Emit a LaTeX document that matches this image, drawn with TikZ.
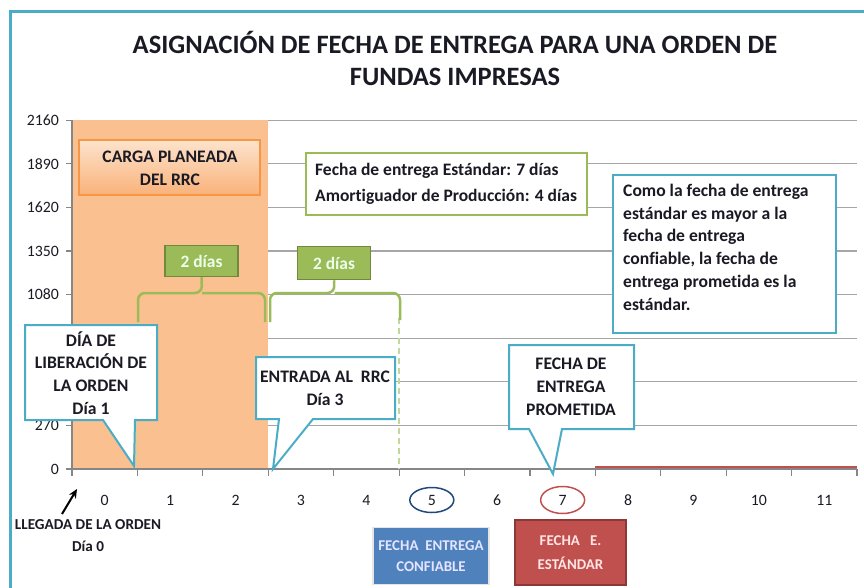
\documentclass[tikz,border=0pt]{standalone}
\usepackage{fontspec}
\setmainfont{Carlito}[Ligatures=NoCommon]
\usetikzlibrary{shapes.geometric,arrows.meta}
\definecolor{aqua}{HTML}{4BACC6}
\definecolor{txt}{HTML}{1A1A24}
\definecolor{gridc}{HTML}{A6A6A6}
\definecolor{axisc}{HTML}{868686}
\definecolor{orangefill}{HTML}{FAC090}
\definecolor{orangeedge}{HTML}{F79646}
\definecolor{orangetop}{HTML}{FDE3CC}
\definecolor{orangebot}{HTML}{F9B27A}
\definecolor{greenc}{HTML}{9BBB59}
\definecolor{greendark}{HTML}{71893F}
\definecolor{greenlight}{HTML}{C3D69B}
\definecolor{bluebox}{HTML}{4F81BD}
\definecolor{navy}{HTML}{1F497D}
\definecolor{redc}{HTML}{C0504D}
\definecolor{reddark}{HTML}{8C3836}
\tikzset{
  gridline/.style={draw=gridc, line width=1.2pt},
  callout/.style={draw=aqua, line width=2pt, fill=white, line join=miter},
  ctext/.style={text=txt, font=\fontsize{17.6}{22.8}\selectfont\bfseries, align=center, inner sep=0pt},
  ltext/.style={text=txt, font=\fontsize{17.6}{22.7}\selectfont\bfseries, align=left, inner sep=0pt, anchor=north west},
  ylab/.style={text=txt, font=\fontsize{15.8}{18}\selectfont, anchor=east, inner sep=0pt},
  xlab/.style={text=txt, font=\fontsize{15.8}{18}\selectfont, inner sep=0pt},
  daybox/.style={fill=greenc, draw=greendark, line width=1.5pt, text=white!92!green, font=\fontsize{17.4}{20}\selectfont\bfseries, minimum width=73pt, minimum height=31pt, inner sep=0pt},
  brace/.style={draw=greenc, line width=2.5pt, rounded corners=7pt},
  guide/.style={draw=greenlight, line width=1.5pt, dash pattern=on 6pt off 4pt},
  smalltext/.style={font=\fontsize{15}{22}\selectfont\bfseries, align=center},
}
\begin{document}
\begin{tikzpicture}[x=1pt,y=-1pt]
\useasboundingbox (0,0) rectangle (864,588);
% frame
\draw[aqua, line width=3pt] (10,588) -- (10,12) -- (864,12);
% title
\node[text=txt, font=\fontsize{26.5}{32}\selectfont\bfseries, align=center] (title) at (455,58)
  {ASIGNACIÓN DE FECHA DE ENTREGA PARA UNA ORDEN DE\\FUNDAS IMPRESAS};
% gridlines
\foreach \y in {120.2,163.8,207.4,251,294.6,338.2,381.8,425.4}
  \draw[gridline] (72,\y) -- (857,\y);
% y labels (540 and 810 lie hidden behind the callout)
\foreach \v/\y in {2160/120.2,1890/163.8,1620/207.4,1350/251,1080/294.6,270/425.4,0/469}
  \node[ylab] (y\v) at (59,\y) {\v};
% orange bar
\fill[orangefill] (72,120.2) rectangle (268.2,469);
% y axis
\draw[axisc, line width=1.2pt] (72,120.2) -- (72,469);
\foreach \y in {120.2,163.8,207.4,251,294.6,338.2,381.8,425.4,469}
  \draw[axisc, line width=1.2pt] (66,\y) -- (72,\y);
% red line
\draw[redc, line width=2.5pt] (595.3,467) -- (857,467);
% x axis
\draw[axisc, line width=1.5pt] (72,469) -- (857,469);
\foreach \i in {0,...,12}
  \draw[axisc, line width=1.2pt] ({72+\i*65.42},469) -- ({72+\i*65.42},476);
\foreach \i in {0,...,11}
  \node[xlab] (x\i) at ({104.7+\i*65.42},500) {\i};
% circles
\node[draw=navy, line width=1.5pt, ellipse, minimum width=44pt, minimum height=25pt, inner sep=0pt] (c5) at (x5) {};
\node[draw=redc, line width=1.5pt, ellipse, minimum width=44pt, minimum height=27pt, inner sep=0pt] (c7) at (x7) {};
% guides
\coordinate (g1t) at (137.4,320); \coordinate (g1b) at (137.4,469);
\coordinate (g2t) at (399,318); \coordinate (g2b) at (399,469);
\draw[guide] (g1t) -- (g1b);
\draw[guide] (g2t) -- (g2b);
% carga box
\shade[top color=orangetop, bottom color=orangebot] (79,140) rectangle (260,195);
\draw[orangeedge, line width=1.2pt] (79,140) rectangle (260,195);
\node[ctext] (carga) at (170,168) {CARGA PLANEADA\\DEL RRC};
% green info box
\node[draw=greenc, line width=2pt, fill=white, minimum width=281pt, minimum height=62pt, inner sep=0pt] (info) at (446.5,184) {};
\node[ltext, font=\fontsize{17.5}{26.5}\selectfont\bfseries] (infotxt) at (315,163) {Fecha de entrega Estándar: 7 días\\Amortiguador de Producción: 4 días};
% day boxes and braces
\node[daybox] (d1) at (201.5,261) {2 días};
\node[daybox, minimum height=33pt] (d2) at (334,263) {2 días};
\draw[brace] (138,322) -- (138,293) -- (202,293) -- (d1.south);
\draw[brace] (265,322) -- (265,293) -- (202,293);
\draw[brace] (270,322) -- (270,293) -- (334.5,293) -- (d2.south);
\draw[brace] (400,320) -- (400,293) -- (334.5,293);
% callouts
\draw[callout] (25,325) -- (157,325) -- (157,420) -- (135,420) -- (134,466) -- (103,420) -- (25,420) -- cycle;
\node[ctext] (lib) at (91,373) {DÍA DE\\LIBERACIÓN DE\\LA ORDEN\\Día 1};
\draw[callout] (256,357) -- (395,357) -- (395,419) -- (313,419) -- (273,469) -- (279,419) -- (256,419) -- cycle;
\node[ctext] (rrc) at (325,388) {ENTRADA AL\ \ RRC\\Día 3};
\draw[callout] (509,345) -- (634,345) -- (634,429) -- (562,429) -- (553,474) -- (529,429) -- (509,429) -- cycle;
\node[ctext] (prom) at (571,387) {FECHA DE\\ENTREGA\\PROMETIDA};
\node[callout, minimum width=223pt, minimum height=158pt, inner sep=0pt] (note) at (724.5,254) {};
\node[ltext] (notetxt) at (623,184) {Como la fecha de entrega\\estándar es mayor a la\\fecha de entrega\\confiable, la fecha de\\entrega prometida es la\\estándar.};
% bottom boxes
\node[fill=bluebox, draw=white!90!black, line width=1.5pt, minimum width=116pt, minimum height=57pt, inner sep=0pt, text=white!90!blue, smalltext, font=\fontsize{14.9}{21.5}\selectfont\bfseries] (conf) at (431,556) {FECHA\ \ ENTREGA\\CONFIABLE};
\node[fill=redc, draw=reddark, line width=1.5pt, minimum width=111pt, minimum height=65pt, inner sep=0pt, text=white!90!red, smalltext, font=\fontsize{14.9}{24.5}\selectfont\bfseries] (std) at (570.5,552.5) {FECHA\ \ \ E.\\ESTÁNDAR};
% arrival arrow
\node[text=txt, smalltext, font=\fontsize{15.2}{22}\selectfont\bfseries] (lleg) at (88,536) {LLEGADA DE LA ORDEN\\Día 0};
\coordinate (at) at (77,489);
\coordinate (af) at (62,514);
\draw[-{Stealth[length=9pt,width=8pt]}, line width=2pt, black] (af) -- (at);
\end{tikzpicture}
\end{document}
